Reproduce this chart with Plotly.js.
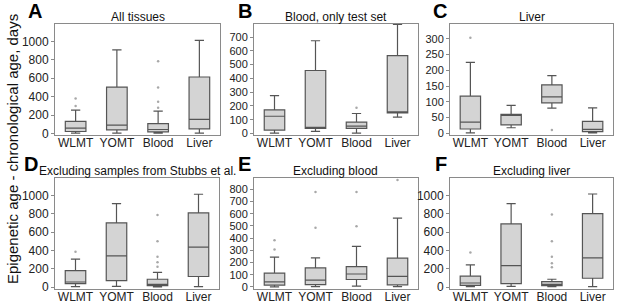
<!DOCTYPE html>
<html>
<head>
<meta charset="utf-8">
<script src="https://cdn.plot.ly/plotly-3.0.1.min.js"></script>
<style>html,body{margin:0;padding:0;background:#fff;}#chart{width:617px;height:303px;}</style>
</head>
<body>
<div id="chart"></div>
<script>
const categories = ['WLMT', 'YOMT', 'Blood', 'Liver'];
const panelLetters = ['A', 'B', 'C', 'D', 'E', 'F'];
const panelTitles = ['All tissues', 'Blood, only test set', 'Liver',
  'Excluding samples from Stubbs et al.', 'Excluding blood', 'Excluding liver'];
const yAxisTitle = 'Epigenetic age - chronological age, days';

// Panel A: All tissues
const A_lower = [4, 4, 4, 4];
const A_q1 = [22, 40, 18, 51];
const A_median = [59, 92, 44, 154];
const A_q3 = [132, 504, 107, 614];
const A_upper = [254, 908, 243, 1011];
const A_outX = ['WLMT', 'WLMT', 'Blood', 'Blood', 'Blood', 'Blood'];
const A_outY = [300, 380, 280, 345, 500, 785];

// Panel B: Blood, only test set
const B_lower = [2, 15, 2, 118];
const B_q1 = [25, 37, 37, 150];
const B_median = [125, 44, 54, 155];
const B_q3 = [172, 457, 83, 565];
const B_upper = [275, 673, 145, 791];
const B_outX = ['Blood'];
const B_outY = [187];

// Panel C: Liver
const C_lower = [2, 18, 80, 2];
const C_q1 = [14, 27, 97, 6];
const C_median = [36, 59, 116, 13];
const C_q3 = [118, 60, 154, 38];
const C_upper = [225, 89, 183, 81];
const C_outX = ['WLMT', 'Blood'];
const C_outY = [303, 11];

// Panel D: Excluding samples from Stubbs et al.
const D_lower = [5, 8, 2, 5];
const D_q1 = [37, 70, 15, 115];
const D_median = [55, 340, 30, 435];
const D_q3 = [178, 700, 85, 808];
const D_upper = [305, 910, 160, 1012];
const D_outX = ['WLMT', 'Blood', 'Blood', 'Blood', 'Blood', 'Blood'];
const D_outY = [385, 220, 270, 330, 500, 785];

// Panel E: Excluding blood
const E_lower = [0, 3, 6, 3];
const E_q1 = [14, 19, 61, 17];
const E_median = [42, 56, 106, 86];
const E_q3 = [114, 156, 167, 236];
const E_upper = [244, 239, 333, 564];
const E_outX = ['WLMT', 'WLMT', 'YOMT', 'YOMT', 'Blood', 'Blood', 'Liver'];
const E_outY = [308, 383, 486, 778, 497, 778, 878];

// Panel F: Excluding liver
const F_lower = [4, 7, 4, 4];
const F_q1 = [19, 37, 15, 96];
const F_median = [44, 233, 30, 319];
const F_q3 = [119, 689, 59, 800];
const F_upper = [241, 911, 85, 1015];
const F_outX = ['WLMT', 'Blood', 'Blood', 'Blood', 'Blood', 'Blood'];
const F_outY = [378, 215, 260, 330, 500, 790];

const panels = [
  {lower: A_lower, q1: A_q1, median: A_median, q3: A_q3, upper: A_upper, outX: A_outX, outY: A_outY},
  {lower: B_lower, q1: B_q1, median: B_median, q3: B_q3, upper: B_upper, outX: B_outX, outY: B_outY},
  {lower: C_lower, q1: C_q1, median: C_median, q3: C_q3, upper: C_upper, outX: C_outX, outY: C_outY},
  {lower: D_lower, q1: D_q1, median: D_median, q3: D_q3, upper: D_upper, outX: D_outX, outY: D_outY},
  {lower: E_lower, q1: E_q1, median: E_median, q3: E_q3, upper: E_upper, outX: E_outX, outY: E_outY},
  {lower: F_lower, q1: F_q1, median: F_median, q3: F_q3, upper: F_upper, outX: F_outX, outY: F_outY}
];

// layout geometry (pixels)
const W = 617, H = 303;
const xPix = [[55, 220], [254, 418], [450, 613], [55, 219], [254, 418], [450, 613]];
const yPix = [[23.5, 135], [23.5, 135], [23.5, 135], [177.5, 288.5], [177.5, 288.5], [177.5, 288.5]];
const yRanges = [[-16, 1195], [-11, 798], [-5, 348], [-16, 1195], [-13, 898], [-16, 1195]];
const yDticks = [200, 100, 50, 200, 100, 200];
const yTickSizes = [12, 11, 11, 12, 11, 12];
const letterPos = [[35, 11], [245, 11], [440, 11], [31, 164], [244, 164], [441, 164]];

const data = [];
const layout = {
  width: W, height: H,
  margin: {l: 0, r: 0, t: 0, b: 0},
  paper_bgcolor: '#ffffff', plot_bgcolor: '#ffffff',
  showlegend: false,
  font: {family: 'Liberation Sans, Arial, sans-serif', size: 12, color: '#222'},
  annotations: []
};

panels.forEach((p, i) => {
  const n = i + 1;
  const xa = n === 1 ? 'x' : 'x' + n;
  const ya = n === 1 ? 'y' : 'y' + n;
  data.push({
    type: 'box',
    x: categories,
    q1: p.q1, median: p.median, q3: p.q3,
    lowerfence: p.lower, upperfence: p.upper,
    xaxis: xa, yaxis: ya,
    width: 0.5,
    whiskerwidth: 0.45,
    fillcolor: '#d4d4d4',
    line: {color: '#555555', width: 1.2},
    boxpoints: false,
    hoverinfo: 'skip'
  });
  data.push({
    type: 'scatter', mode: 'markers',
    x: p.outX, y: p.outY,
    xaxis: xa, yaxis: ya,
    marker: {size: 2.5, color: '#a8a8a8'},
    hoverinfo: 'skip'
  });
  const xd = [xPix[i][0] / W, xPix[i][1] / W];
  const yd = [1 - yPix[i][1] / H, 1 - yPix[i][0] / H];
  layout['xaxis' + (n === 1 ? '' : n)] = {
    domain: xd, anchor: ya,
    type: 'category', categoryorder: 'array', categoryarray: categories,
    range: [-0.5, 3.5],
    showgrid: false, zeroline: false,
    showline: true, mirror: true, linecolor: '#8a8a8a', linewidth: 1,
    ticks: '', tickfont: {size: 12, color: '#222'}, ticklen: 0,
    ticklabelstandoff: -3,
    fixedrange: true
  };
  layout['yaxis' + (n === 1 ? '' : n)] = {
    domain: yd, anchor: xa,
    range: yRanges[i], dtick: yDticks[i], tick0: 0,
    showgrid: false, zeroline: false,
    showline: true, mirror: true, linecolor: '#8a8a8a', linewidth: 1,
    ticks: 'outside', ticklen: 3, tickcolor: '#8a8a8a',
    tickfont: {size: yTickSizes[i], color: '#222'},
    fixedrange: true
  };
  // panel title
  layout.annotations.push({
    xref: 'paper', yref: 'paper',
    x: (xd[0] + xd[1]) / 2,
    y: 1 - (yPix[i][0] - 7) / H,
    xanchor: 'center', yanchor: 'middle',
    text: panelTitles[i], showarrow: false,
    font: {size: 12, color: '#111'}
  });
  // panel letter
  layout.annotations.push({
    xref: 'paper', yref: 'paper',
    x: letterPos[i][0] / W, y: 1 - letterPos[i][1] / H,
    xanchor: 'center', yanchor: 'middle',
    text: '<b>' + panelLetters[i] + '</b>', showarrow: false,
    font: {size: 20, color: '#000'}
  });
});

layout.annotations.push({
  xref: 'paper', yref: 'paper',
  x: 12 / W, y: 1 - 149 / H,
  xanchor: 'center', yanchor: 'middle',
  textangle: -90,
  text: yAxisTitle, showarrow: false,
  font: {size: 15, color: '#111'}
});

Plotly.newPlot('chart', data, layout, {staticPlot: true, displayModeBar: false});
</script>
</body>
</html>
